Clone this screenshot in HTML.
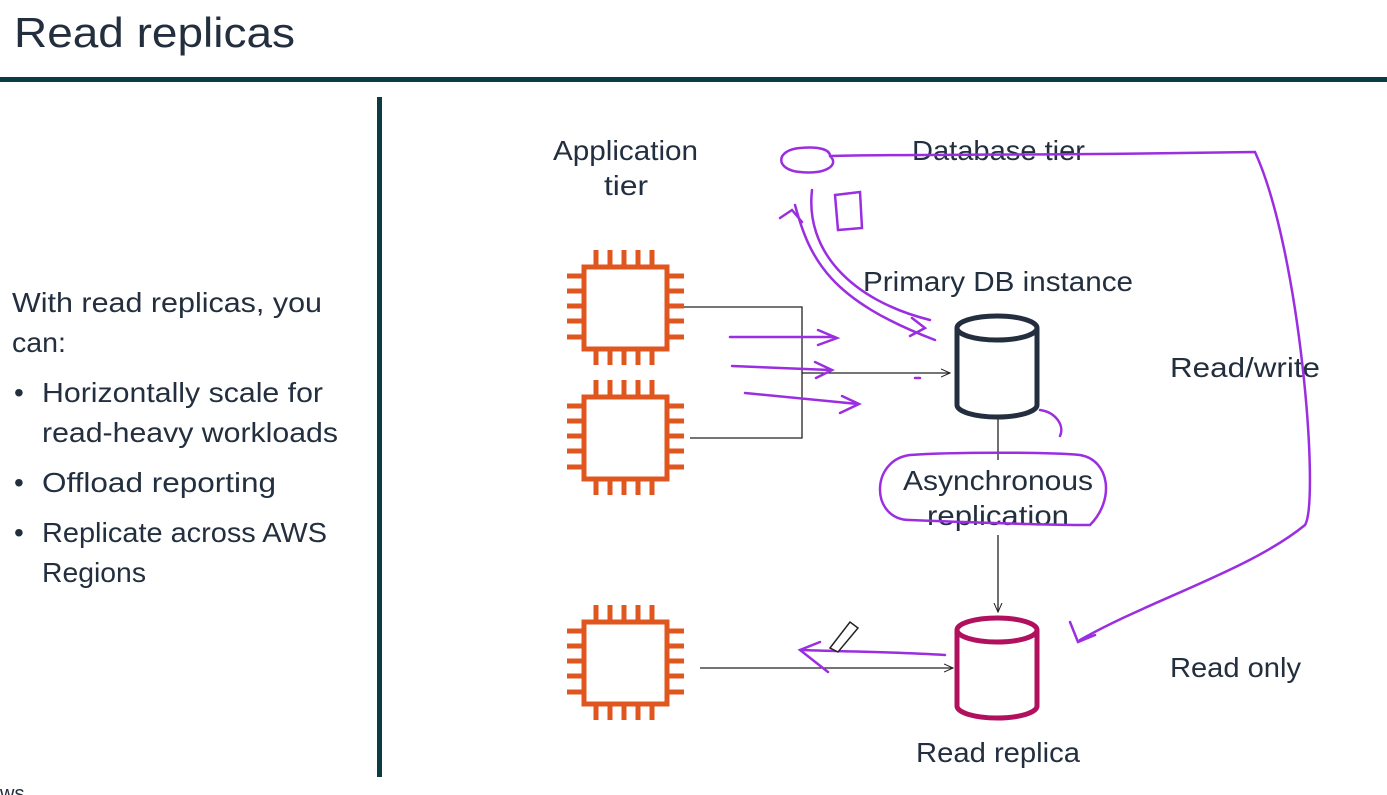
<!DOCTYPE html>
<html><head><meta charset="utf-8"><style>
body{margin:0;width:1387px;height:795px;background:#fff;overflow:hidden;font-family:"Liberation Sans",sans-serif;color:#232f3e}
</style></head><body>
<svg width="1387" height="795" viewBox="0 0 1387 795" xmlns="http://www.w3.org/2000/svg" style="position:absolute;left:0;top:0">
<defs>
<marker id="a" markerWidth="10" markerHeight="10" refX="9" refY="5" orient="auto" markerUnits="userSpaceOnUse"><path d="M0,1 L9,5 L0,9" fill="none" stroke="#222" stroke-width="1"/></marker>
<g id="chip" fill="none" stroke="#e0561f" stroke-width="5">
<rect x="584" y="267" width="83" height="82"/>
<path d="M596,250v17M610,250v17M624,250v17M638,250v17M652,250v17M596,349v16M610,349v16M624,349v16M638,349v16M652,349v16M567,276h17M567,291h17M567,306h17M567,321h17M567,337h17M667,276h17M667,291h17M667,306h17M667,321h17M667,337h17"/>
</g>
</defs>
<text x="14" y="47" font-size="42" fill="#232f3e" textLength="281" lengthAdjust="spacingAndGlyphs">Read replicas</text>
<rect x="0" y="77" width="1387" height="5" fill="#0d3b43"/>
<rect x="377" y="97" width="5" height="680" fill="#0d3b43"/>
<g font-size="28" fill="#232f3e" lengthAdjust="spacingAndGlyphs">
<text x="12" y="312" textLength="310" lengthAdjust="spacingAndGlyphs">With read replicas, you</text>
<text x="12" y="352" textLength="54" lengthAdjust="spacingAndGlyphs">can:</text>
<text x="14" y="402">•</text><text x="42" y="402" textLength="281" lengthAdjust="spacingAndGlyphs">Horizontally scale for</text>
<text x="42" y="442" textLength="296" lengthAdjust="spacingAndGlyphs">read-heavy workloads</text>
<text x="14" y="492">•</text><text x="42" y="492" textLength="234" lengthAdjust="spacingAndGlyphs">Offload reporting</text>
<text x="14" y="542">•</text><text x="42" y="542" textLength="285" lengthAdjust="spacingAndGlyphs">Replicate across AWS</text>
<text x="42" y="582" textLength="104" lengthAdjust="spacingAndGlyphs">Regions</text>
<text x="0" y="800" font-size="20">ws</text>
<text x="553" y="160" textLength="145" lengthAdjust="spacingAndGlyphs">Application</text>
<text x="604" y="195" textLength="44" lengthAdjust="spacingAndGlyphs">tier</text>
<text x="912" y="160" textLength="173" lengthAdjust="spacingAndGlyphs">Database tier</text>
<text x="863" y="291" textLength="270" lengthAdjust="spacingAndGlyphs">Primary DB instance</text>
<text x="903" y="490" textLength="190" lengthAdjust="spacingAndGlyphs">Asynchronous</text>
<text x="927" y="525" textLength="142" lengthAdjust="spacingAndGlyphs">replication</text>
<text x="916" y="762" textLength="164" lengthAdjust="spacingAndGlyphs">Read replica</text>
<text x="1170" y="377" textLength="150" lengthAdjust="spacingAndGlyphs">Read/write</text>
<text x="1170" y="677" textLength="131" lengthAdjust="spacingAndGlyphs">Read only</text>
</g>
<use href="#chip"/>
<use href="#chip" y="130"/>
<use href="#chip" y="355"/>
<g fill="none" stroke="#222" stroke-width="1.3">
<path d="M684,307H802V438H690"/>
<path d="M802,373H950" marker-end="url(#a)"/>
<path d="M998,418V460"/>
<path d="M998,535V612" marker-end="url(#a)"/>
<path d="M700,668H953" marker-end="url(#a)"/>
</g>
<g fill="none" stroke="#232f3e" stroke-width="5">
<path d="M957,328V405A40,12 0 0 0 1037,405V328"/>
<ellipse cx="997" cy="328" rx="40" ry="12"/>
</g>
<g fill="none" stroke="#b0105e" stroke-width="5">
<path d="M957,630V706A40,12 0 0 0 1037,706V630"/>
<ellipse cx="997" cy="630" rx="40" ry="12"/>
</g>
<g fill="none" stroke="#9b2ee0" stroke-width="2.5" stroke-linecap="round">
<path d="M730,337H835M818,330L837,338L818,345"/>
<path d="M732,366L830,370M815,362L832,370L816,378"/>
<path d="M745,393L858,404M842,396L859,404L840,413"/>
<path d="M830,156C840,165 825,175 800,172C775,170 775,150 800,148C820,146 830,150 830,156M830,156C900,154 1000,156 1255,152C1300,250 1320,500 1305,525C1250,570 1150,600 1080,640M1070,622L1078,642L1095,635"/>
<path d="M795,205C810,260 830,300 935,340M912,318L925,328L910,336M792,210L780,218M792,210L802,222"/>
<path d="M812,190C805,250 850,300 930,320"/>
<path d="M835,195L860,192L862,228L838,230Z"/>
<path d="M910,455C870,460 870,520 910,520C960,522 1040,525 1090,525C1115,500 1110,460 1080,455C1050,452 950,452 910,455"/>
<path d="M1040,410C1055,412 1065,425 1060,436"/>
<path d="M945,655C900,652 860,652 800,650M820,642L800,650L828,672"/>
<path d="M915,378h5"/>
</g>
<path d="M830,648L850,622L858,628L838,652Z" fill="#fff" stroke="#222" stroke-width="1.5"/>
</svg>
</body></html>
